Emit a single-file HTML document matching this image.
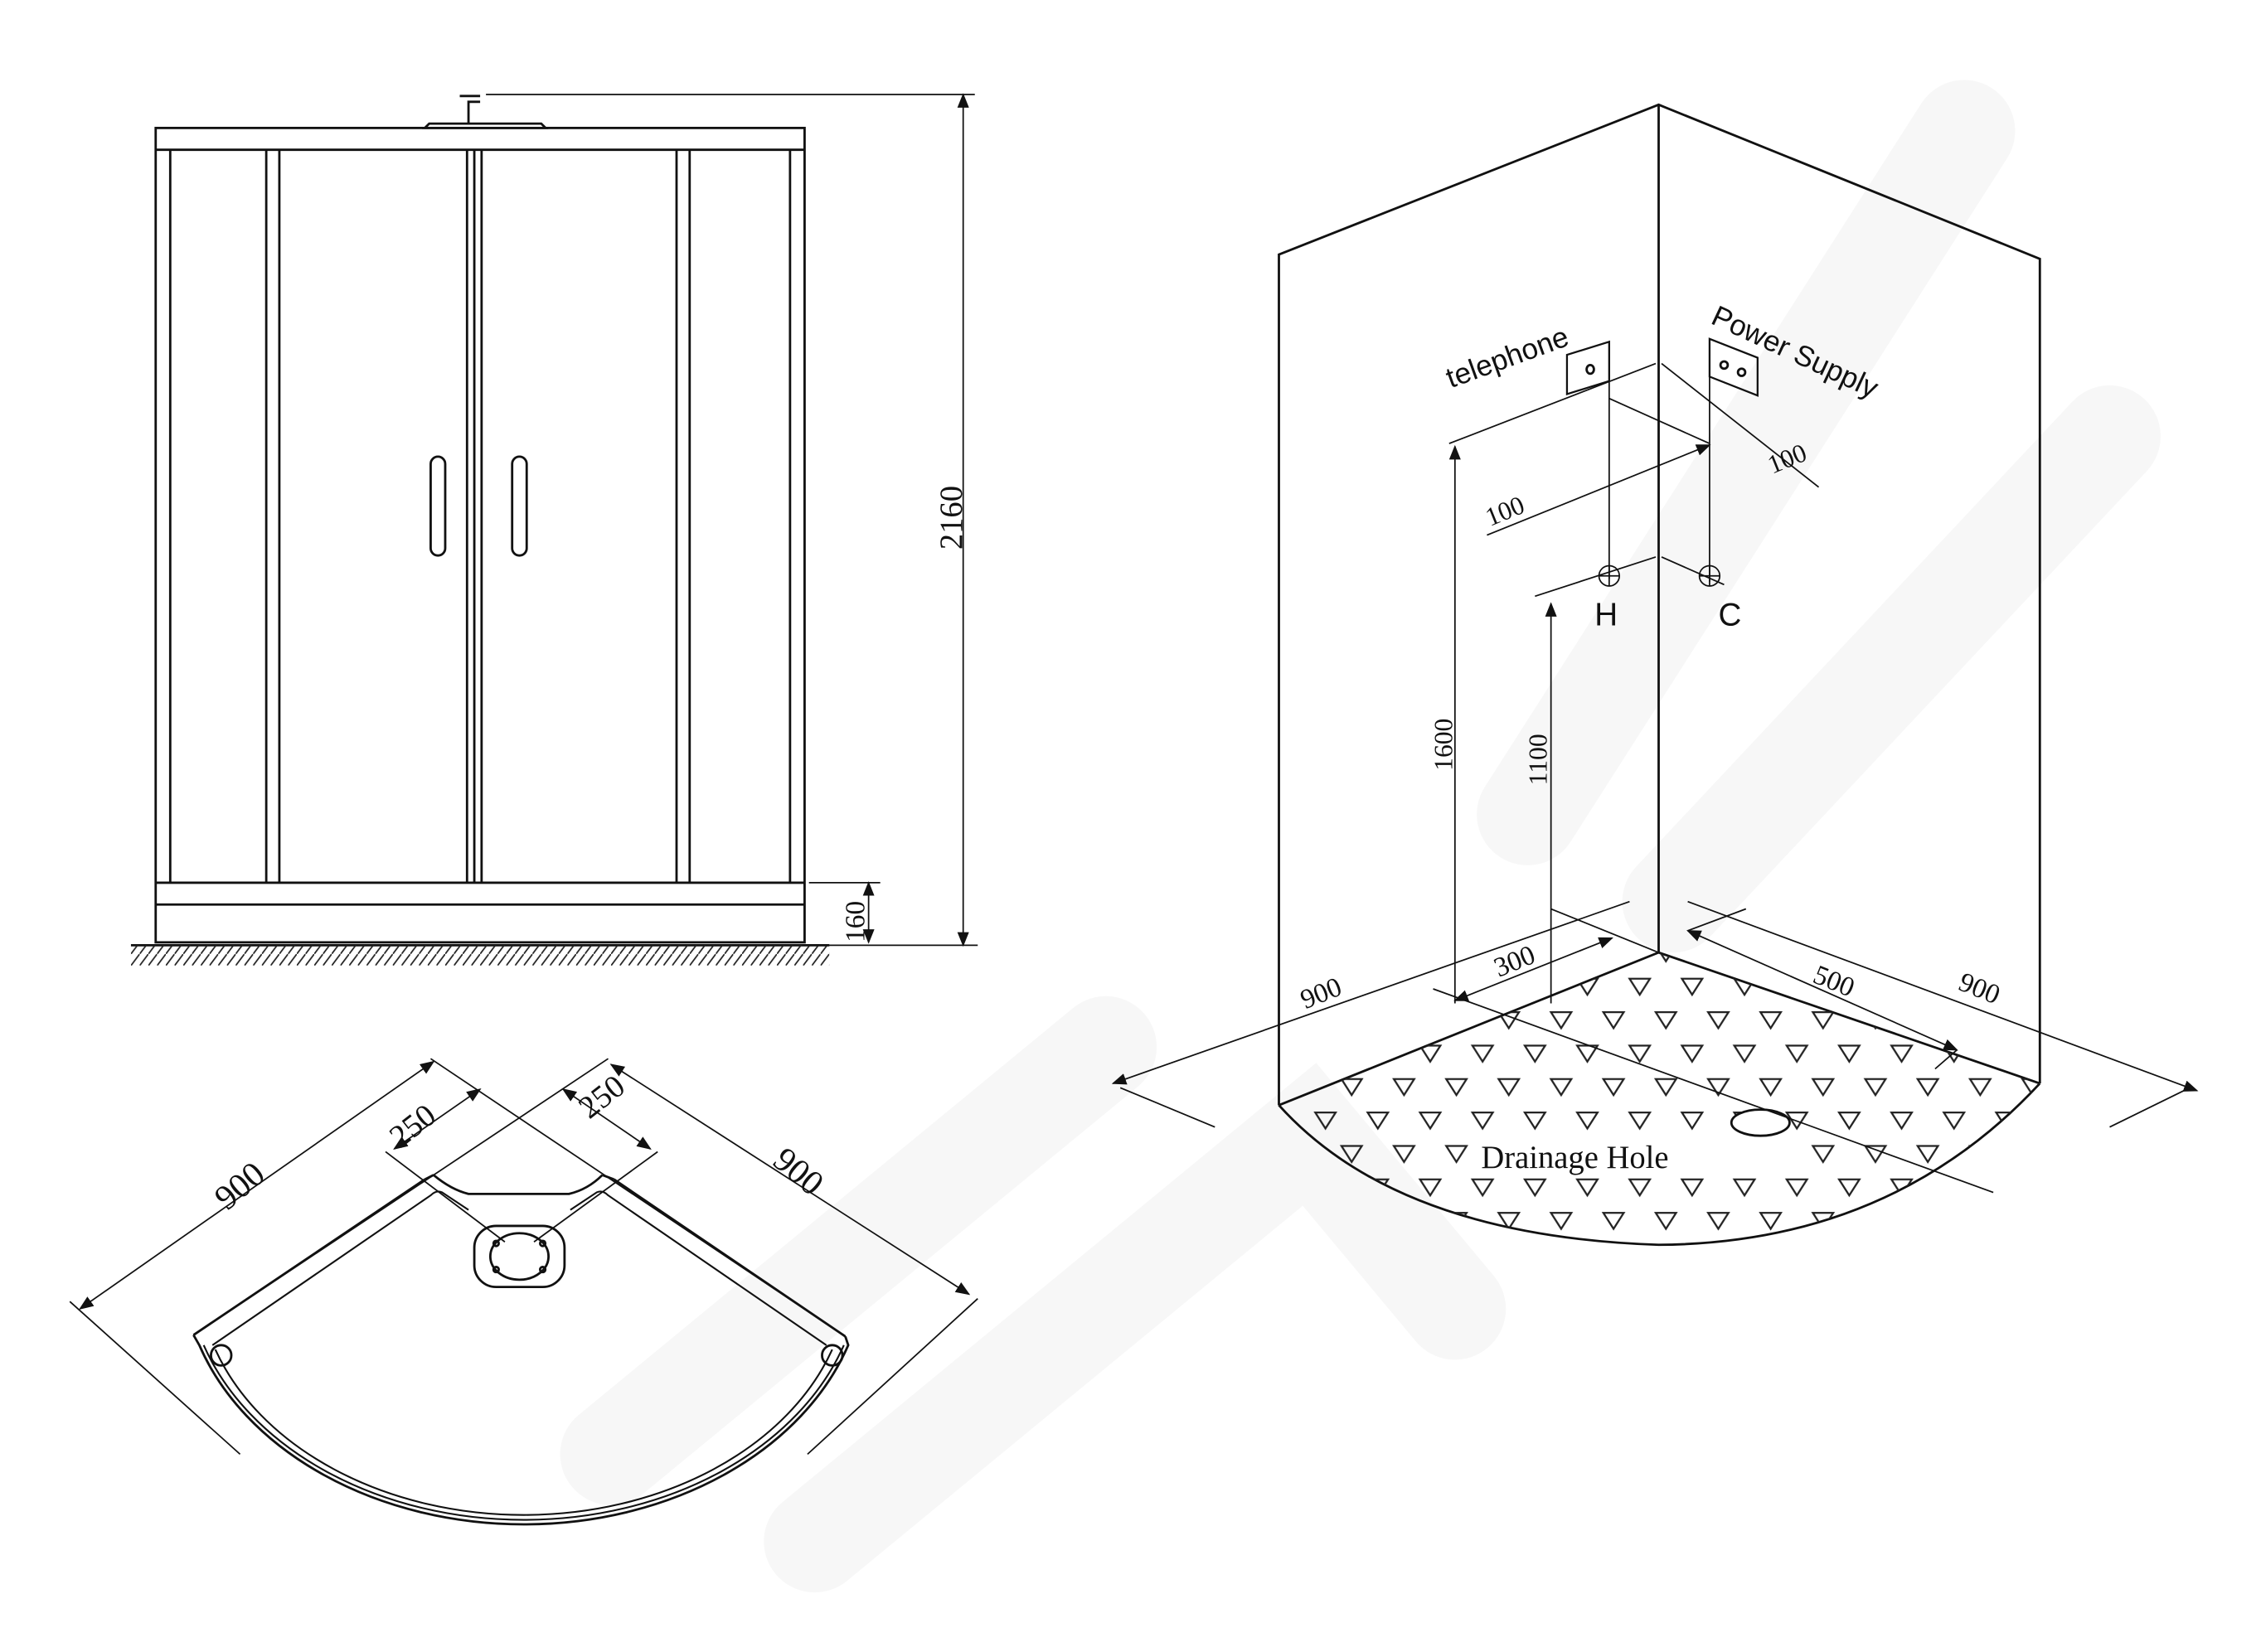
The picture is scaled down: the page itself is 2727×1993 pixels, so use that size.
<!DOCTYPE html>
<html><head><meta charset="utf-8"><style>
html,body{margin:0;padding:0;background:#fff;}
svg{display:block;}
text{font-family:"Liberation Serif",serif;fill:#111;}
.s{font-family:"Liberation Sans",sans-serif;}
</style></head><body>
<svg width="2727" height="1993" viewBox="0 0 1554 1136" preserveAspectRatio="none" xmlns="http://www.w3.org/2000/svg">
<defs>
<marker id="a" markerWidth="10" markerHeight="8" refX="9" refY="4" orient="auto-start-reverse" markerUnits="userSpaceOnUse"><path d="M0,0 L10,4 L0,8 z" fill="#111"/></marker>
<pattern id="tri" x="0" y="665" width="36" height="46" patternUnits="userSpaceOnUse">
<path d="M4,8 L18,8 L11,19 z M22,31 L36,31 L29,42 z M-14,31 L0,31 L-7,42 z" fill="none" stroke="#222" stroke-width="1.3"/>
</pattern>
<pattern id="hatch" width="6" height="8" patternUnits="userSpaceOnUse"><path d="M6,0 L0,8" stroke="#222" stroke-width="1"/></pattern>
<clipPath id="fl"><path d="M879,760 L1140,655 L1402,745 Q1300,855 1140,856 Q960,850 879,760 z"/></clipPath>
</defs>
<rect width="1554" height="1136" fill="#fff"/>
<g stroke="#f7f7f7" stroke-width="70" fill="none" stroke-linecap="round">
<path d="M420,1000 L760,720"/><path d="M560,1060 L900,780 L1000,900"/><path d="M1050,560 L1350,90"/><path d="M1150,620 L1450,300"/>
</g>
<g stroke="#111" fill="none" stroke-width="1.6">
<!-- front elevation -->
<rect x="107" y="88" width="446" height="560"/>
<line x1="107" y1="103" x2="553" y2="103"/>
<line x1="117" y1="103" x2="117" y2="607"/><line x1="543" y1="103" x2="543" y2="607"/>
<line x1="183" y1="103" x2="183" y2="607"/><line x1="192" y1="103" x2="192" y2="607"/>
<line x1="321" y1="103" x2="321" y2="607"/><line x1="326" y1="103" x2="326" y2="607"/><line x1="331" y1="103" x2="331" y2="607"/>
<line x1="465" y1="103" x2="465" y2="607"/><line x1="474" y1="103" x2="474" y2="607"/>
<line x1="107" y1="607" x2="553" y2="607"/><line x1="107" y1="622" x2="553" y2="622"/>
<rect x="296" y="314" width="10" height="68" rx="5"/><rect x="352" y="314" width="10" height="68" rx="5"/>
<path d="M292,88 L375,88 L372,85 L295,85 z"/>
<path d="M322,85 L322,70 L330,70 M316,66 L330,66"/>
<line x1="90" y1="650" x2="570" y2="650"/>
<rect x="90" y="650" width="480" height="14" fill="url(#hatch)" stroke="none"/>
<line x1="334" y1="65" x2="670" y2="65" stroke-width="1"/>
<line x1="556" y1="650" x2="672" y2="650" stroke-width="1"/>
<line x1="662" y1="65" x2="662" y2="650" stroke-width="1" marker-start="url(#a)" marker-end="url(#a)"/>
<line x1="556" y1="607" x2="605" y2="607" stroke-width="1"/>
<line x1="597" y1="607" x2="597" y2="648" stroke-width="1" marker-start="url(#a)" marker-end="url(#a)"/>
<!-- plan view -->
<path d="M133,918 L292,811 M422,811 L581,919"/>
<path d="M133,918 L137,925 A235,180 0 0 0 583,925 L581,919"/>
<path d="M140,925 A232,176 0 0 0 580,925" stroke-width="1.2"/>
<path d="M148,928 A224,168 0 0 0 572,928" stroke-width="1.2"/>
<path d="M298,808 Q310,818 322,821 L391,821 Q404,818 414,808"/>
<path d="M292,811 L298,808 M414,808 L422,811"/>
<path d="M146,925 L296,822 Q300,818 304,820 L322,832 M568,925 L418,822 Q414,818 410,820 L392,832" stroke-width="1.2"/>
<circle cx="152" cy="932" r="7"/><circle cx="572" cy="932" r="7"/>
<rect x="326" y="843" width="62" height="42" rx="15"/><ellipse cx="357" cy="864" rx="20" ry="16"/>
<circle cx="341" cy="855" r="1.8"/><circle cx="373" cy="855" r="1.8"/><circle cx="341" cy="873" r="1.8"/><circle cx="373" cy="873" r="1.8"/>
<g stroke-width="1">
<line x1="55" y1="900" x2="298" y2="730" marker-start="url(#a)" marker-end="url(#a)"/>
<line x1="48" y1="895" x2="165" y2="1000"/>
<line x1="296" y1="728" x2="581" y2="919"/>
<line x1="418" y1="728" x2="133" y2="918"/>
<line x1="420" y1="732" x2="666" y2="890" marker-start="url(#a)" marker-end="url(#a)"/>
<line x1="672" y1="893" x2="555" y2="1000"/>
<line x1="271" y1="790" x2="330" y2="749" marker-start="url(#a)" marker-end="url(#a)"/>
<line x1="265" y1="792" x2="347" y2="854"/>
<line x1="387" y1="749" x2="447" y2="790" marker-start="url(#a)" marker-end="url(#a)"/>
<line x1="452" y1="792" x2="367" y2="854"/>
</g>
<!-- 3D view -->
<path d="M879,760 L879,175 L1140,72 L1402,178 L1402,745"/>
<line x1="1140" y1="72" x2="1140" y2="655"/>
<path d="M879,760 L1140,655 L1402,745"/>
<path d="M879,760 Q960,850 1140,856 Q1300,855 1402,745"/>
<rect x="870" y="640" width="540" height="230" fill="url(#tri)" stroke="none" clip-path="url(#fl)"/>
<rect x="1018" y="784" width="212" height="24" fill="#fff" stroke="none"/>
<ellipse cx="1210" cy="772" rx="20" ry="9" fill="#fff"/>
<path d="M1077,244 L1106,235 L1106,262 L1077,271 z" stroke-width="1.3"/>
<ellipse cx="1093" cy="254" rx="2.5" ry="3"/>
<path d="M1175,233 L1208,246 L1208,272 L1175,259 z" stroke-width="1.3"/>
<circle cx="1185" cy="251" r="2.5"/><circle cx="1197" cy="256" r="2.5"/>
<g stroke-width="1">
<line x1="1106" y1="235" x2="1106" y2="398"/><line x1="1175" y1="259" x2="1175" y2="400"/>
<circle cx="1106" cy="396" r="7"/><path d="M1099,396 L1113,396 M1106,389 L1106,403"/>
<circle cx="1175" cy="396" r="7"/><path d="M1168,396 L1182,396 M1175,389 L1175,403"/>
<line x1="996" y1="305" x2="1138" y2="250"/>
<line x1="1142" y1="250" x2="1250" y2="335"/>
<line x1="1055" y1="410" x2="1138" y2="383"/>
<line x1="1142" y1="383" x2="1185" y2="402"/>
<line x1="1000" y1="307" x2="1000" y2="690" marker-start="url(#a)"/>
<line x1="1066" y1="415" x2="1066" y2="690" marker-start="url(#a)"/>
<line x1="1022" y1="368" x2="1175" y2="306" marker-end="url(#a)"/>
<line x1="1106" y1="274" x2="1175" y2="305"/>
<line x1="1000" y1="688" x2="1108" y2="645" marker-start="url(#a)" marker-end="url(#a)"/>
<line x1="985" y1="680" x2="1370" y2="820"/>
<line x1="1066" y1="625" x2="1140" y2="655"/>
<line x1="1160" y1="640" x2="1345" y2="722" marker-start="url(#a)" marker-end="url(#a)"/>
<line x1="1345" y1="722" x2="1330" y2="735"/><line x1="1200" y1="625" x2="1160" y2="640"/>
<line x1="765" y1="745" x2="1120" y2="620" marker-start="url(#a)"/>
<line x1="1160" y1="620" x2="1510" y2="750" marker-end="url(#a)"/>
<line x1="770" y1="748" x2="835" y2="775"/><line x1="1505" y1="748" x2="1450" y2="775"/>
</g>
</g>
<g font-size="22">
<text transform="translate(661,378) rotate(-90)">2160</text>
<text transform="translate(594,648) rotate(-90)" font-size="19">160</text>
<text transform="translate(156,833) rotate(-40)" font-size="24">900</text>
<text transform="translate(530,800) rotate(40)" font-size="24">900</text>
<text transform="translate(275,790) rotate(-38)">250</text>
<text transform="translate(405,770) rotate(-38)">250</text>
<text class="s" transform="translate(997,267) rotate(-20)" font-size="20">telephone</text>
<text class="s" transform="translate(1175,222) rotate(25)" font-size="20">Power Supply</text>
<text class="s" x="1096" y="430" font-size="22">H</text>
<text class="s" x="1181" y="430" font-size="22">C</text>
<text transform="translate(1024,362) rotate(-22)" font-size="18">100</text>
<text transform="translate(1218,326) rotate(-22)" font-size="18">100</text>
<text transform="translate(998,530) rotate(-90)" font-size="18">1600</text>
<text transform="translate(1063,540) rotate(-90)" font-size="18">1100</text>
<text transform="translate(1030,672) rotate(-22)" font-size="19">300</text>
<text transform="translate(1245,675) rotate(22)" font-size="19">500</text>
<text transform="translate(897,694) rotate(-22)" font-size="19">900</text>
<text transform="translate(1345,680) rotate(22)" font-size="19">900</text>
<text x="1018" y="803" font-size="22">Drainage Hole</text>
</g>
</svg>
</body></html>
